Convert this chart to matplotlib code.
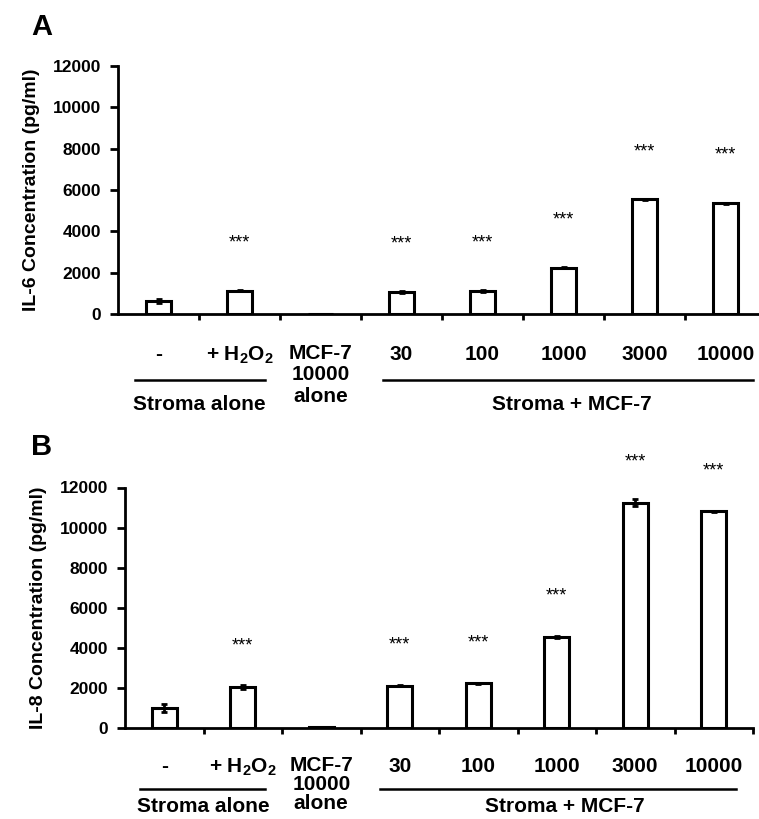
import matplotlib
matplotlib.use('Agg')
import matplotlib.pyplot as plt
import matplotlib.transforms as mtransforms

plt.rcParams['font.family'] = ['Liberation Sans', 'DejaVu Sans']
plt.rcParams['font.weight'] = 'bold'
plt.rcParams['axes.labelweight'] = 'bold'
plt.rcParams['mathtext.default'] = 'regular'

labels = ['-', '+ H$_2$O$_2$', 'MCF-7\n10000\nalone', '30', '100', '1000', '3000', '10000']
il6 = [620, 1130, 0, 1060, 1110, 2250, 5550, 5360]
il6_err = [110, 30, 0, 30, 60, 30, 30, 30]
il8 = [1000, 2060, 60, 2120, 2230, 4540, 11250, 10820]
il8_err = [180, 110, 0, 20, 20, 40, 170, 30]
stars = ['', '***', '', '***', '***', '***', '***', '***']
yticks = [0, 2000, 4000, 6000, 8000, 10000, 12000]

W, H = 759, 819
fig = plt.figure(figsize=(W / 100, H / 100), dpi=100)


def fy(py):
    return 1 - py / H


def panel(rect, vals, errs, ylabel, letter, letter_pos, star_off, rows, lines, lsp):
    ax = fig.add_axes(rect)
    x = list(range(len(vals)))
    ax.bar(x, vals, width=0.32, color='white', edgecolor='black', linewidth=2.2,
           yerr=errs, capsize=2.5, error_kw={'elinewidth': 2, 'capthick': 2})
    for i, s in enumerate(stars):
        if s:
            ax.text(i, vals[i] + star_off, s, ha='center', va='bottom',
                    fontsize=13, fontweight='normal', clip_on=False)
    ax.set_xlim(-0.5, 7.5)
    ax.set_ylim(0, 12000)
    ax.set_yticks(yticks)
    ax.set_yticklabels([str(v) for v in yticks], fontsize=12.5, fontweight='bold')
    ax.set_xticks([i + 0.5 for i in range(8)])
    ax.set_xticklabels([])
    ax.tick_params(axis='x', direction='out', length=4, width=2)
    ax.tick_params(axis='y', direction='out', length=6, width=2, pad=6)
    for sp in ['top', 'right']:
        ax.spines[sp].set_visible(False)
    for sp in ['left', 'bottom']:
        ax.spines[sp].set_linewidth(2)
    ax.set_ylabel(ylabel, fontsize=14, fontweight='bold', labelpad=9)

    tr = mtransforms.blended_transform_factory(ax.transData, fig.transFigure)
    for i, lab in enumerate(labels):
        if i == 2:
            ax.text(i, fy(rows[0] - 11), lab, transform=tr, ha='center', va='top',
                    fontsize=15, linespacing=lsp, clip_on=False)
        else:
            ax.text(i, fy(rows[0]), lab, transform=tr, ha='center', va='center',
                    fontsize=15, clip_on=False)
    (a0, a1), (b0, b1) = lines
    ax.plot([a0, a1], [fy(rows[1])] * 2, transform=tr, color='black', lw=1.8, clip_on=False)
    ax.plot([b0, b1], [fy(rows[1])] * 2, transform=tr, color='black', lw=1.8, clip_on=False)
    ax.text(0.5, fy(rows[2]), 'Stroma alone', transform=tr, ha='center', va='center',
            fontsize=15, clip_on=False)
    ax.text(5.1, fy(rows[2]), 'Stroma + MCF-7', transform=tr, ha='center', va='center',
            fontsize=15, clip_on=False)
    fig.text(letter_pos[0] / W, fy(letter_pos[1]), letter, fontsize=21,
             fontweight='bold', ha='center', va='center')
    return ax


panel([118 / W, fy(314), 648 / W, 248 / H], il6, il6_err,
      'IL-6 Concentration (pg/ml)', 'A', (42, 27), 1900,
      (355, 380, 404), ((-0.29, 1.31), (2.77, 7.34)), 1.15)
panel([125 / W, fy(728), 628 / W, 240.5 / H], il8, il8_err,
      'IL-8 Concentration (pg/ml)', 'B', (42, 447), 1600,
      (767, 789, 807), ((-0.31, 1.28), (2.75, 7.28)), 1.0)

fig.savefig('out.png', dpi=100)
